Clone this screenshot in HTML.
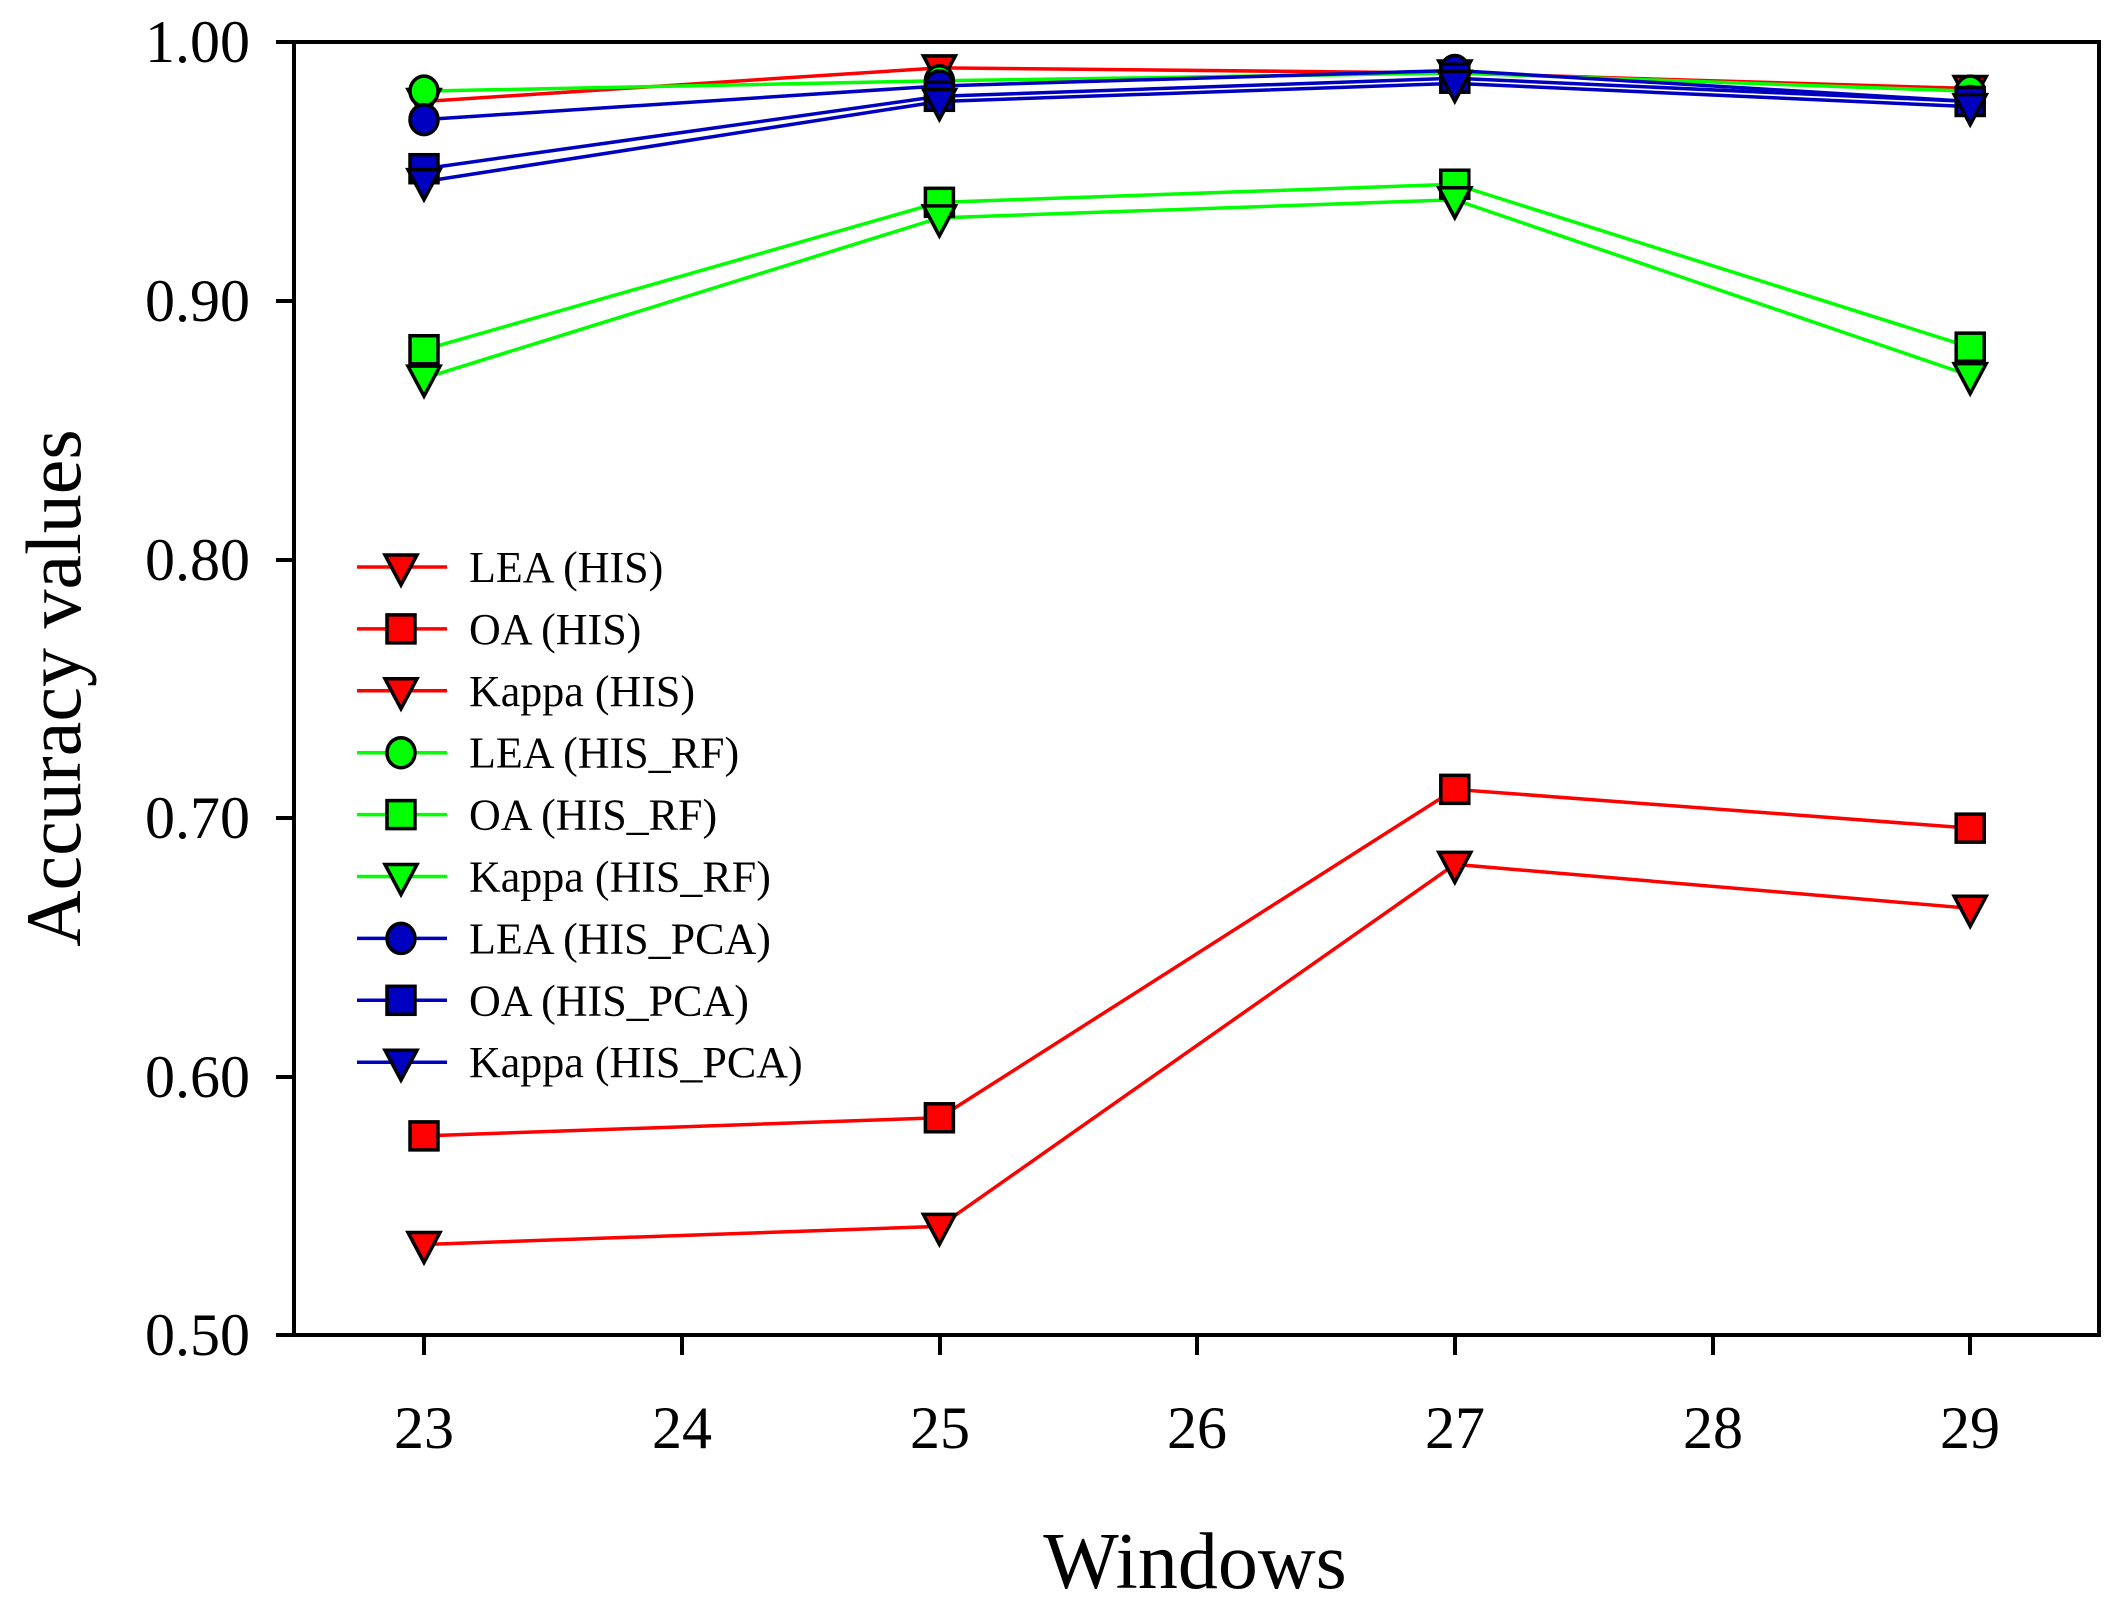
<!DOCTYPE html>
<html><head><meta charset="utf-8"><style>
html,body{margin:0;padding:0;background:#fff;}
svg{display:block;font-family:"Liberation Serif",serif;}
</style></head><body>
<svg id="s" width="2120" height="1609" viewBox="0 0 2120 1609" xmlns="http://www.w3.org/2000/svg">
<rect width="2120" height="1609" fill="#fff"/>
<g id="series"></g>
<rect x="294" y="42" width="1805" height="1293" fill="none" stroke="#000" stroke-width="4"/>
<g stroke="#000" stroke-width="4">
<line x1="276" y1="42" x2="294" y2="42"/><line x1="276" y1="301" x2="294" y2="301"/><line x1="276" y1="560" x2="294" y2="560"/><line x1="276" y1="818" x2="294" y2="818"/><line x1="276" y1="1077" x2="294" y2="1077"/><line x1="276" y1="1335" x2="294" y2="1335"/>
<line x1="424" y1="1335" x2="424" y2="1355"/><line x1="682" y1="1335" x2="682" y2="1355"/><line x1="940" y1="1335" x2="940" y2="1355"/><line x1="1197" y1="1335" x2="1197" y2="1355"/><line x1="1455" y1="1335" x2="1455" y2="1355"/><line x1="1713" y1="1335" x2="1713" y2="1355"/><line x1="1970" y1="1335" x2="1970" y2="1355"/>
</g>
<g font-size="60" text-anchor="end" fill="#000">
<text x="250" y="62">1.00</text><text x="250" y="321">0.90</text><text x="250" y="580">0.80</text><text x="250" y="838">0.70</text><text x="250" y="1097">0.60</text><text x="250" y="1355">0.50</text>
</g>
<g font-size="60" text-anchor="middle" fill="#000">
<text x="424" y="1448">23</text><text x="682" y="1448">24</text><text x="940" y="1448">25</text><text x="1197" y="1448">26</text><text x="1455" y="1448">27</text><text x="1713" y="1448">28</text><text x="1970" y="1448">29</text>
</g>
<text x="1195" y="1588" font-size="80" text-anchor="middle">Windows</text>
<text transform="translate(80,688) rotate(-90)" font-size="78" text-anchor="middle">Accuracy values</text>
<g id="legend"></g>
</svg>
<script>
var NS="http://www.w3.org/2000/svg";
function X(w){return 424+(w-23)*257.7;}
function Y(v){return 1335-(v-0.5)*2586;}
var R="#ff0000",G="#00ff00",B="#0000c0";
var S=[
["LEA (HIS)",R,"tri",[0.977,0.990,0.988,0.982]],
["OA (HIS)",R,"sq",[0.577,0.584,0.711,0.696]],
["Kappa (HIS)",R,"tri",[0.535,0.542,0.682,0.665]],
["LEA (HIS_RF)",G,"ci",[0.981,0.985,0.988,0.981]],
["OA (HIS_RF)",G,"sq",[0.881,0.938,0.945,0.882]],
["Kappa (HIS_RF)",G,"tri",[0.870,0.932,0.939,0.871]],
["LEA (HIS_PCA)",B,"ci",[0.970,0.983,0.989,0.977]],
["OA (HIS_PCA)",B,"sq",[0.951,0.979,0.986,0.977]],
["Kappa (HIS_PCA)",B,"tri",[0.946,0.977,0.984,0.975]]
];
var ws=[23,25,27,29];
function el(t,a,p){var e=document.createElementNS(NS,t);for(var k in a)e.setAttribute(k,a[k]);p.appendChild(e);return e;}
function marker(type,x,y,c,p){
 var a={fill:c,stroke:"#000","stroke-width":3.5};
 if(type=="sq"){a.x=x-14;a.y=y-14;a.width=28;a.height=28;el("rect",a,p);}
 else if(type=="ci"){a.cx=x;a.cy=y;a.rx=14;a.ry=15;el("ellipse",a,p);}
 else{a.points=(x-16)+","+(y-12)+" "+(x+16)+","+(y-12)+" "+x+","+(y+18);el("polygon",a,p);}
}
var g=document.getElementById("series");
S.forEach(function(s){
 el("polyline",{points:s[3].map(function(v,i){return X(ws[i])+","+Y(v);}).join(" "),fill:"none",stroke:s[1],"stroke-width":3.5},g);
});
S.forEach(function(s){s[3].forEach(function(v,i){marker(s[2],X(ws[i]),Y(v),s[1],g);});});
var L=document.getElementById("legend");
S.forEach(function(s,i){
 var y=567+i*61.9;
 el("line",{x1:357,y1:y,x2:447,y2:y,stroke:s[1],"stroke-width":3.5},L);
 marker(s[2],401,y,s[1],L);
 var t=el("text",{x:469,y:y+15,"font-size":44},L);t.textContent=s[0];
});
</script>
</body></html>
